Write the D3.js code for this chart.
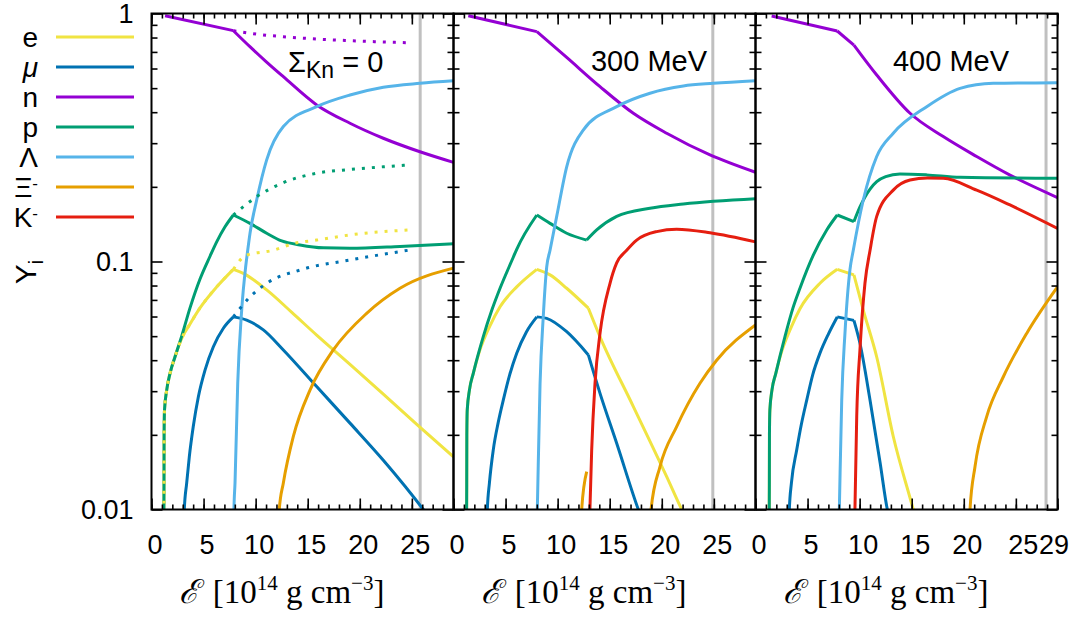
<!DOCTYPE html>
<html>
<head>
<meta charset="utf-8">
<script src="https://cdn.jsdelivr.net/npm/d3@7"></script>
<style>
  body { margin: 0; background: #fff; }
  svg { display: block; font-family: 'Liberation Sans', Arial, sans-serif; }
</style>
</head>
<body>
<svg id="chart" width="1078" height="623"></svg>
<script>
// Particle fractions Y_i vs energy density, three panels (Sigma_Kn = 0, 300 MeV, 400 MeV)
// each series is a list of segments, each segment a list of [density, Y]

// ---- panel 1: Sigma_Kn = 0 ----
const p1E = [
    [[1.18, 0.008], [1.2, 0.0125], [1.21, 0.02], [1.25, 0.0252], [1.46, 0.0303], [1.78, 0.0354], [2.26, 0.0413], [2.9, 0.049], [3.7, 0.056], [4.66, 0.065], [6.26, 0.079], [7.86, 0.093]],
    [[7.86, 0.093], [8.82, 0.0896], [11.06, 0.0768], [13.5, 0.0622], [15.86, 0.0505], [19.06, 0.0385], [22.26, 0.0292], [25.5, 0.022], [29, 0.0163]]
];
const p1Mu = [
    [[3.1, 0.008], [3.15, 0.01], [3.38, 0.0128], [3.63, 0.0163], [4.01, 0.0216], [4.5, 0.0285], [5.14, 0.0365], [5.94, 0.0453], [6.9, 0.0538], [7.86, 0.0598]],
    [[7.86, 0.0598], [9.14, 0.058], [10.74, 0.053], [12.66, 0.044], [15.86, 0.0313], [19.06, 0.0223], [22.26, 0.0158], [26.1, 0.01], [27, 0.0089]]
];
const p1N = [
    [[1.3, 0.98], [7.86, 0.853]],
    [[7.86, 0.853], [9.45, 0.735], [11.0, 0.64], [12.66, 0.556], [15.86, 0.428], [19.06, 0.361], [22.26, 0.314], [25.78, 0.277], [29, 0.251]]
];
const p1P = [
    [[1.18, 0.008], [1.2, 0.0125], [1.21, 0.02], [1.25, 0.0252], [1.46, 0.0303], [1.78, 0.0354], [2.26, 0.0413], [2.9, 0.05], [3.7, 0.065], [4.66, 0.085], [5.62, 0.105], [6.26, 0.12], [7.06, 0.138], [7.86, 0.154]],
    [[7.86, 0.154], [9.46, 0.1425], [11.06, 0.13], [12.5, 0.121], [14.26, 0.1166], [16.5, 0.1135], [19.06, 0.113], [23.86, 0.115], [29, 0.118]]
];
const p1Lam = [
    [[7.9, 0.008], [7.92, 0.01], [8.02, 0.0128], [8.28, 0.0323], [8.66, 0.0637], [9.04, 0.095], [9.24, 0.111], [9.46, 0.13], [10.1, 0.177], [11.06, 0.257], [12.66, 0.35], [15.86, 0.421], [19.06, 0.469], [22.26, 0.504], [25.78, 0.523], [29, 0.535]]
];
const p1Xi = [
    [[12.2, 0.009], [12.27, 0.01], [12.66, 0.0128], [13.62, 0.0197], [15.22, 0.0303], [17.46, 0.044], [20.66, 0.0618], [23.86, 0.078], [29, 0.094]]
];
// dotted: without hyperons
const p1EDot = [
    [[1.18, 0.008], [1.2, 0.0125], [1.21, 0.02], [1.25, 0.0252], [1.46, 0.0303], [1.78, 0.0354], [2.26, 0.0413], [2.9, 0.049], [3.7, 0.056], [4.66, 0.065], [6.26, 0.079], [7.86, 0.093]],
    [[7.86, 0.093], [9.1, 0.106], [11.7, 0.111], [13.6, 0.118], [15.86, 0.122], [19.06, 0.128], [24.66, 0.134]]
];
const p1MuDot = [
    [[7.86, 0.0598], [9.46, 0.072], [11.06, 0.0817], [14.26, 0.0924], [19.06, 0.1014], [24.66, 0.111]]
];
const p1NDot = [
    [[7.86, 0.853], [9.46, 0.832], [12.66, 0.806], [15.86, 0.789], [19.06, 0.777], [24.66, 0.762]]
];
const p1PDot = [
    [[7.86, 0.154], [10.1, 0.1825], [12.66, 0.208], [15.86, 0.227], [19.06, 0.235], [22.26, 0.241], [24.66, 0.245]]
];

// ---- panel 2: 300 MeV ----
const p2E = [
    [[1.25, 0.008], [1.27, 0.0125], [1.28, 0.02], [1.32, 0.0252], [1.53, 0.0303], [1.9, 0.0354], [2.5, 0.0435], [3.5, 0.055], [4.47, 0.0657], [6.07, 0.079], [8.0, 0.093]],
    [[8.0, 0.093], [9.27, 0.0883], [10.87, 0.078], [12.95, 0.0648]],
    [[12.95, 0.0648], [14.07, 0.0497], [17.27, 0.026], [20.47, 0.01356], [21.91, 0.01], [22.5, 0.0089]]
];
const p2Mu = [
    [[3.2, 0.008], [3.25, 0.01], [3.45, 0.0128], [3.82, 0.0174], [4.3, 0.0225], [4.78, 0.0276], [5.4, 0.035], [6.07, 0.0427], [7.0, 0.052], [8.0, 0.0598]],
    [[8.0, 0.0598], [8.95, 0.059], [10.87, 0.0521], [12.95, 0.042]],
    [[12.95, 0.042], [14.07, 0.0294], [15.67, 0.0185], [17.75, 0.01], [18.2, 0.0089]]
];
const p2N = [
    [[1.42, 0.98], [8.0, 0.845]],
    [[8.0, 0.845], [10.87, 0.665], [14.07, 0.507], [17.27, 0.396], [20.47, 0.329], [24.63, 0.269], [29, 0.229]]
];
const p2P = [
    [[1.25, 0.008], [1.27, 0.0125], [1.28, 0.02], [1.32, 0.0252], [1.53, 0.0303], [1.9, 0.0354], [2.86, 0.0498], [3.7, 0.064], [4.47, 0.078], [5.74, 0.104], [6.07, 0.112], [8.0, 0.154]],
    [[8.0, 0.154], [9.27, 0.1425], [10.87, 0.13], [12.79, 0.122]],
    [[12.79, 0.122], [13.75, 0.134], [15.67, 0.152], [18.87, 0.164], [22.07, 0.1705], [29, 0.179]]
];
const p2Lam = [
    [[8.0, 0.008], [8.05, 0.01], [8.31, 0.032], [8.62, 0.06], [8.95, 0.095], [9.27, 0.111], [9.91, 0.152], [10.87, 0.241], [12.46, 0.339], [15.67, 0.421], [18.87, 0.477], [22.07, 0.51], [24.95, 0.523], [29, 0.536]]
];
const p2Xi = [
    [[12.2, 0.008], [12.31, 0.01], [12.79, 0.0142]],
    [[18.9, 0.008], [18.97, 0.01], [19.83, 0.0149], [21.43, 0.0216], [23.67, 0.0323], [25.27, 0.04], [29, 0.0555]]
];
const p2K = [
    [[13.05, 0.008], [13.1, 0.01], [13.27, 0.0174], [13.59, 0.0323], [14.07, 0.0513], [15.03, 0.0817], [15.67, 0.0987], [16.63, 0.111], [17.59, 0.122], [19.51, 0.132], [21.43, 0.135], [24.63, 0.1306], [29, 0.12]]
];

// ---- panel 3: 400 MeV ----
const p3E = [
    [[1.31, 0.008], [1.33, 0.0125], [1.34, 0.02], [1.38, 0.0252], [1.58, 0.0303], [1.95, 0.0354], [2.45, 0.0425], [3.4, 0.054], [4.27, 0.0645], [6.19, 0.0817], [7.85, 0.093]],
    [[7.85, 0.093], [9.45, 0.0883]],
    [[9.45, 0.0883], [10.35, 0.0637], [11.64, 0.0412], [13.23, 0.0197], [15.15, 0.01], [15.5, 0.0088]]
];
const p3Mu = [
    [[3.2, 0.008], [3.25, 0.01], [3.45, 0.0128], [3.96, 0.0174], [4.4, 0.022], [4.92, 0.0276], [5.5, 0.035], [6.19, 0.0427], [7.0, 0.051], [7.85, 0.0598]],
    [[7.85, 0.0598], [9.45, 0.0579]],
    [[9.45, 0.0579], [10.03, 0.0468], [11.0, 0.0276], [11.97, 0.0154], [12.66, 0.01], [13, 0.0088]]
];
const p3N = [
    [[1.55, 0.977], [7.85, 0.85]],
    [[7.85, 0.85], [9.45, 0.746]],
    [[9.45, 0.746], [11.64, 0.565], [14.84, 0.396], [18.03, 0.319], [21.24, 0.265], [24.44, 0.223], [29, 0.181]]
];
const p3P = [
    [[1.31, 0.008], [1.33, 0.0125], [1.34, 0.02], [1.38, 0.0252], [1.58, 0.0303], [1.95, 0.0354], [2.83, 0.0498], [3.6, 0.065], [4.27, 0.078], [5.55, 0.106], [6.84, 0.134], [7.85, 0.154]],
    [[7.85, 0.154], [9.45, 0.1448]],
    [[9.45, 0.1448], [10.03, 0.166], [11.0, 0.196], [11.64, 0.21], [12.5, 0.22], [13.87, 0.2254], [16.44, 0.2235], [19.64, 0.2186], [29, 0.2165]]
];
const p3Lam = [
    [[8.0, 0.008], [8.05, 0.01], [8.28, 0.0276], [8.59, 0.0513], [9.07, 0.0926], [9.39, 0.111], [10.35, 0.177], [11.64, 0.265], [13.23, 0.329], [16.44, 0.421], [19.64, 0.499], [22.83, 0.523], [29, 0.526]]
];
const p3Xi = [
    [[20.5, 0.008], [20.6, 0.01], [21.08, 0.0149], [22.2, 0.0237], [23.8, 0.0343], [26.04, 0.0513], [29, 0.079]]
];
const p3K = [
    [[9.5, 0.008], [9.55, 0.01], [9.72, 0.0237], [10.03, 0.044], [10.51, 0.0817], [11.0, 0.111], [11.64, 0.152], [13.23, 0.194], [14.84, 0.213], [16.5, 0.217], [18.03, 0.2165], [21.24, 0.194], [24.44, 0.169], [29, 0.136]]
];

// vertical gray marks (maximum-mass density) per panel
const grayMarks = [25.8, 24.9, 27.9];
const panelNotes = ['', '300 MeV', '400 MeV'];

// legend
const legendNames = ['e', 'μ', 'n', 'p', 'Λ', 'Ξ', 'K'];
const legendSups = ['', '', '', '', '', '-', '-'];
const speciesColors = ['#f0e442', '#0072b2', '#9400d3', '#009e73', '#56b4e9', '#e69f00', '#e51e10'];

// ticks
const xMajorTicks = [0, 5, 10, 15, 20, 25];
const xMajorTicksLast = [0, 5, 10, 15, 20, 25, 29];
const xMinorTicks = d3.range(0, 30);
const yMajorTicks = [0.01, 0.1, 1];
const yTickLabels = ['0.01', '0.1', '1'];
const yMinorTicks = [0.02, 0.03, 0.04, 0.05, 0.06, 0.07, 0.08, 0.09, 0.2, 0.3, 0.4, 0.5, 0.6, 0.7, 0.8, 0.9];

// layout
const plotTop = 13.5;
const plotBottom = 509.5;
const panelWidth = 302;
const panelLefts = [151.5, 453.5, 755.5];

const panels = [
    { solid: [p1E, p1Mu, p1N, p1P, p1Lam, p1Xi, null], dotted: [p1EDot, p1MuDot, p1NDot, p1PDot] },
    { solid: [p2E, p2Mu, p2N, p2P, p2Lam, p2Xi, p2K], dotted: [] },
    { solid: [p3E, p3Mu, p3N, p3P, p3Lam, p3Xi, p3K], dotted: [] }
];

const svg = d3.select('#chart');

const y = d3.scaleLog()
    .domain([0.01, 1])
    .range([plotBottom, plotTop]);

panels.forEach((panel, i) => drawPanel(panel, i));
drawYLabels();
drawLegend();

/**
 * Draw one panel: curves, gray mark, frame and ticks
 */
function drawPanel(panel, i) {
    const left = panelLefts[i];
    const x = d3.scaleLinear()
        .domain([0, 29])
        .range([left, left + panelWidth]);

    const clipId = 'clip' + i;
    svg.append('clipPath')
        .attr('id', clipId)
        .append('rect')
        .attr('x', left)
        .attr('y', plotTop)
        .attr('width', panelWidth)
        .attr('height', plotBottom - plotTop);

    const g = svg.append('g').attr('clip-path', `url(#${clipId})`);

    // gray vertical mark
    g.append('line')
        .attr('x1', x(grayMarks[i]))
        .attr('x2', x(grayMarks[i]))
        .attr('y1', plotTop)
        .attr('y2', plotBottom)
        .attr('stroke', '#c0c0c0')
        .attr('stroke-width', 3);

    const line = d3.line()
        .x(d => x(d[0]))
        .y(d => y(d[1]))
        .curve(d3.curveMonotoneX);

    panel.solid.forEach((series, k) => {
        if (!series) return;
        series.forEach(seg => {
            g.append('path')
                .attr('d', line(seg))
                .attr('fill', 'none')
                .attr('stroke', speciesColors[k])
                .attr('stroke-width', 3)
                .attr('stroke-linejoin', 'round');
        });
    });

    // dotted curves (e, mu, n, p)
    panel.dotted.forEach((series, k) => {
        series.forEach(seg => {
            g.append('path')
                .attr('d', line(seg))
                .attr('fill', 'none')
                .attr('stroke', speciesColors[k])
                .attr('stroke-width', 3)
                .attr('stroke-dasharray', '3,7');
        });
    });

    // frame
    svg.append('rect')
        .attr('x', left)
        .attr('y', plotTop)
        .attr('width', panelWidth)
        .attr('height', plotBottom - plotTop)
        .attr('fill', 'none')
        .attr('stroke', '#000')
        .attr('stroke-width', 2);

    const majors = i === 2 ? xMajorTicksLast : xMajorTicks;

    // bottom ticks and labels
    const bottom = svg.append('g')
        .attr('transform', `translate(0,${plotBottom})`);
    bottom.append('g').call(d3.axisBottom(x).tickValues(xMinorTicks).tickSize(-5).tickFormat(''));
    bottom.append('g').call(d3.axisBottom(x).tickValues(majors).tickSize(-11).tickPadding(25).tickFormat(d3.format('d')));
    bottom.selectAll('text')
        .style('font-size', '27px')
        .style('font-family', "'Liberation Sans', Arial, sans-serif")
        .attr('fill', '#000')
        .attr('dx', d => (i === 2 && d === 25) ? 7 : (d === 29 ? -4 : 3));

    // top ticks
    const top = svg.append('g')
        .attr('transform', `translate(0,${plotTop})`);
    top.append('g').call(d3.axisTop(x).tickValues(xMinorTicks).tickSize(-5).tickFormat(''));
    top.append('g').call(d3.axisTop(x).tickValues(majors).tickSize(-11).tickFormat(''));

    // left and right ticks, pointing inwards
    const leftAx = svg.append('g').attr('transform', `translate(${left},0)`);
    leftAx.append('g').call(d3.axisRight(y).tickValues(yMinorTicks).tickSize(6).tickFormat(''));
    leftAx.append('g').call(d3.axisRight(y).tickValues(yMajorTicks).tickSize(11).tickFormat(''));
    const rightAx = svg.append('g').attr('transform', `translate(${left + panelWidth},0)`);
    rightAx.append('g').call(d3.axisLeft(y).tickValues(yMinorTicks).tickSize(6).tickFormat(''));
    rightAx.append('g').call(d3.axisLeft(y).tickValues(yMajorTicks).tickSize(11).tickFormat(''));

    svg.selectAll('.domain').remove();
    svg.selectAll('.tick line').attr('stroke', '#000').attr('stroke-width', 1.6);

    // panel note
    if (i === 0) {
        const t = svg.append('text')
            .attr('x', 288)
            .attr('y', 72)
            .style('font-size', '29px');
        t.append('tspan').text('Σ');
        t.append('tspan').attr('dy', 6).style('font-size', '23px').text('Kn');
        t.append('tspan').attr('dy', -6).text(' = 0');
    } else {
        svg.append('text')
            .attr('x', x(13.2))
            .attr('y', 71)
            .style('font-size', '29px')
            .text(panelNotes[i]);
    }

    // x-axis title
    const title = svg.append('text')
        .attr('x', left + panelWidth / 2 - 21)
        .attr('y', 603)
        .attr('text-anchor', 'middle')
        .style('font-family', "'Liberation Serif', 'DejaVu Serif', serif")
        .style('font-size', '33px');
    title.append('tspan').style('font-style', 'italic').text('ℰ');
    title.append('tspan').attr('dx', 6).text(' [10');
    title.append('tspan').attr('dy', -13).style('font-size', '21px').text('14');
    title.append('tspan').attr('dy', 13).text(' g cm');
    title.append('tspan').attr('dy', -13).style('font-size', '21px').text('−3');
    title.append('tspan').attr('dy', 13).text(']');
}

/**
 * Y tick labels and axis title
 */
function drawYLabels() {
    const labels = svg.append('g')
        .attr('transform', `translate(${panelLefts[0]},0)`)
        .call(d3.axisLeft(y).tickValues(yMajorTicks).tickSize(0).tickPadding(18)
            .tickFormat((d, k) => yTickLabels[k]));
    labels.select('.domain').remove();
    labels.selectAll('text')
        .style('font-size', '27px')
        .style('font-family', "'Liberation Sans', Arial, sans-serif")
        .attr('fill', '#000');

    const yl = svg.append('text')
        .attr('transform', 'translate(36,272) rotate(-90)')
        .attr('text-anchor', 'middle')
        .style('font-size', '30px');
    yl.append('tspan').text('Y');
    yl.append('tspan').attr('dy', 7).style('font-size', '20px').text('i');
}

/**
 * Legend on the left side
 */
function drawLegend() {
    const rowY = d3.scaleLinear().domain([0, 1]).range([37, 67]);
    legendNames.forEach((name, k) => {
        const yy = rowY(k);
        svg.append('line')
            .attr('x1', 56)
            .attr('x2', 134)
            .attr('y1', yy)
            .attr('y2', yy)
            .attr('stroke', speciesColors[k])
            .attr('stroke-width', 3);

        const t = svg.append('text')
            .attr('x', 38)
            .attr('y', yy + 10)
            .attr('text-anchor', 'end')
            .style('font-size', '28px');
        t.append('tspan')
            .style('font-style', name === 'μ' ? 'italic' : 'normal')
            .text(name);
        if (legendSups[k]) {
            t.append('tspan').attr('dy', -8).style('font-size', '17px').text(legendSups[k]);
        }
    });
}
</script>
</body>
</html>
